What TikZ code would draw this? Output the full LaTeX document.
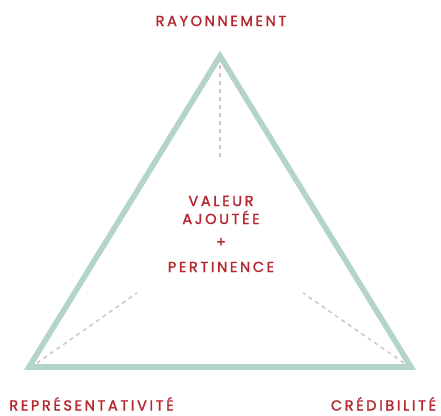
\documentclass[tikz,border=0pt]{standalone}
\usepackage{fontspec}
\setmainfont{Poppins}
\newfontfamily\lblfont[LetterSpace=18,FakeBold=1.6]{Poppins}
\definecolor{lblred}{HTML}{B5282E}
\definecolor{trigreen}{HTML}{B3D4C6}
\definecolor{dashbeige}{HTML}{D4C5B2}
\begin{document}
\begin{tikzpicture}[x=0.75pt,y=-0.75pt,
  lbl/.style={inner sep=0pt, text=lblred, text depth=0pt, font=\lblfont\fontsize{10.9}{12}\selectfont, anchor=base},
  tri/.style={draw=trigreen, line width=4.2pt, line join=miter},
  guide/.style={draw=dashbeige, line width=1.1pt, dash pattern=on 3pt off 3pt}]
\useasboundingbox (0,0) rectangle (441,415);
\coordinate (top) at (220,56);
\coordinate (bl) at (29,367);
\coordinate (br) at (411,367);
\coordinate (topin) at (220,65);
\coordinate (topend) at (220,160);
\coordinate (blin) at (37,363);
\coordinate (blend) at (137,293);
\coordinate (brin) at (404,363);
\coordinate (brend) at (303,293);
\draw[tri] (top) -- (bl) -- (br) -- cycle;
\draw[guide] (topin) -- (topend);
\draw[guide] (blin) -- (blend);
\draw[guide] (brin) -- (brend);
\node[lbl] (ray) at (221,26) {RAYONNEMENT};
\node[lbl] (val) at (221,206) {VALEUR};
\node[lbl] (ajo) at (221,224) {AJOUTÉE};
\node[lbl] (plus) at (221,247) {+};
\node[lbl] (per) at (221,272) {PERTINENCE};
\node[lbl] (rep) at (91.5,410.5) {REPRÉSENTATIVITÉ};
\node[lbl] (cre) at (383.5,410.5) {CRÉDIBILITÉ};
\end{tikzpicture}
\end{document}
